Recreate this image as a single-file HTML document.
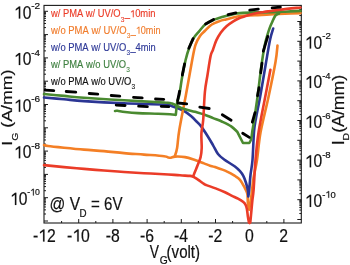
<!DOCTYPE html>
<html><head><meta charset="utf-8"><style>
html,body{margin:0;padding:0;background:#fff;}
body{width:350px;height:265px;overflow:hidden;position:relative;font-family:"Liberation Sans",sans-serif;}
svg{position:absolute;left:0;top:0;will-change:transform;filter:blur(0.35px);}
</style></head><body>
<svg width="350" height="265" viewBox="0 0 350 265">
<rect x="44.0" y="5.4" width="257.3" height="217.6" fill="none" stroke="#1a1a1a" stroke-width="1.1"/>
<path d="M44.0 221.00h4 M44.0 213.99h2 M44.0 209.88h2 M44.0 206.97h2 M44.0 204.71h2 M44.0 202.87h2 M44.0 201.31h2 M44.0 199.96h2 M44.0 198.77h2 M44.0 197.70h4 M44.0 190.69h2 M44.0 186.58h2 M44.0 183.67h2 M44.0 181.41h2 M44.0 179.57h2 M44.0 178.01h2 M44.0 176.66h2 M44.0 175.47h2 M44.0 174.40h4 M44.0 167.39h2 M44.0 163.28h2 M44.0 160.37h2 M44.0 158.11h2 M44.0 156.27h2 M44.0 154.71h2 M44.0 153.36h2 M44.0 152.17h2 M44.0 151.10h4 M44.0 144.09h2 M44.0 139.98h2 M44.0 137.07h2 M44.0 134.81h2 M44.0 132.97h2 M44.0 131.41h2 M44.0 130.06h2 M44.0 128.87h2 M44.0 127.80h4 M44.0 120.79h2 M44.0 116.68h2 M44.0 113.77h2 M44.0 111.51h2 M44.0 109.67h2 M44.0 108.11h2 M44.0 106.76h2 M44.0 105.57h2 M44.0 104.50h4 M44.0 97.49h2 M44.0 93.38h2 M44.0 90.47h2 M44.0 88.21h2 M44.0 86.37h2 M44.0 84.81h2 M44.0 83.46h2 M44.0 82.27h2 M44.0 81.20h4 M44.0 74.19h2 M44.0 70.08h2 M44.0 67.17h2 M44.0 64.91h2 M44.0 63.07h2 M44.0 61.51h2 M44.0 60.16h2 M44.0 58.97h2 M44.0 57.90h4 M44.0 50.89h2 M44.0 46.78h2 M44.0 43.87h2 M44.0 41.61h2 M44.0 39.77h2 M44.0 38.21h2 M44.0 36.86h2 M44.0 35.67h2 M44.0 34.60h4 M44.0 27.59h2 M44.0 23.48h2 M44.0 20.57h2 M44.0 18.31h2 M44.0 16.47h2 M44.0 14.91h2 M44.0 13.56h2 M44.0 12.37h2 M44.0 11.30h4 M301.3 219.50h-4 M301.3 213.54h-2 M301.3 210.05h-2 M301.3 207.58h-2 M301.3 205.66h-2 M301.3 204.09h-2 M301.3 202.77h-2 M301.3 201.62h-2 M301.3 200.61h-2 M301.3 199.70h-4 M301.3 193.74h-2 M301.3 190.25h-2 M301.3 187.78h-2 M301.3 185.86h-2 M301.3 184.29h-2 M301.3 182.97h-2 M301.3 181.82h-2 M301.3 180.81h-2 M301.3 179.90h-4 M301.3 173.94h-2 M301.3 170.45h-2 M301.3 167.98h-2 M301.3 166.06h-2 M301.3 164.49h-2 M301.3 163.17h-2 M301.3 162.02h-2 M301.3 161.01h-2 M301.3 160.10h-4 M301.3 154.14h-2 M301.3 150.65h-2 M301.3 148.18h-2 M301.3 146.26h-2 M301.3 144.69h-2 M301.3 143.37h-2 M301.3 142.22h-2 M301.3 141.21h-2 M301.3 140.30h-4 M301.3 134.34h-2 M301.3 130.85h-2 M301.3 128.38h-2 M301.3 126.46h-2 M301.3 124.89h-2 M301.3 123.57h-2 M301.3 122.42h-2 M301.3 121.41h-2 M301.3 120.50h-4 M301.3 114.54h-2 M301.3 111.05h-2 M301.3 108.58h-2 M301.3 106.66h-2 M301.3 105.09h-2 M301.3 103.77h-2 M301.3 102.62h-2 M301.3 101.61h-2 M301.3 100.70h-4 M301.3 94.74h-2 M301.3 91.25h-2 M301.3 88.78h-2 M301.3 86.86h-2 M301.3 85.29h-2 M301.3 83.97h-2 M301.3 82.82h-2 M301.3 81.81h-2 M301.3 80.90h-4 M301.3 74.94h-2 M301.3 71.45h-2 M301.3 68.98h-2 M301.3 67.06h-2 M301.3 65.49h-2 M301.3 64.17h-2 M301.3 63.02h-2 M301.3 62.01h-2 M301.3 61.10h-4 M301.3 55.14h-2 M301.3 51.65h-2 M301.3 49.18h-2 M301.3 47.26h-2 M301.3 45.69h-2 M301.3 44.37h-2 M301.3 43.22h-2 M301.3 42.21h-2 M301.3 41.30h-4 M301.3 35.34h-2 M301.3 31.85h-2 M301.3 29.38h-2 M301.3 27.46h-2 M301.3 25.89h-2 M301.3 24.57h-2 M301.3 23.42h-2 M301.3 22.41h-2 M301.3 21.50h-4 M301.3 15.54h-2 M301.3 12.05h-2 M301.3 9.58h-2 M301.3 7.66h-2 M61.60 223.0v-2 M78.70 223.0v-4 M95.80 223.0v-2 M112.90 223.0v-4 M130.00 223.0v-2 M147.10 223.0v-4 M164.20 223.0v-2 M181.30 223.0v-4 M198.40 223.0v-2 M215.50 223.0v-4 M232.60 223.0v-2 M249.70 223.0v-4 M266.80 223.0v-2 M283.90 223.0v-4" stroke="#1a1a1a" stroke-width="1" fill="none"/>
<path d="M44.00 145.10 C44.67 145.25 44.67 145.57 48.00 146.00 C51.33 146.43 58.00 147.10 64.00 147.70 C70.00 148.30 77.33 149.03 84.00 149.60 C90.67 150.17 97.33 150.52 104.00 151.10 C110.67 151.68 117.33 152.52 124.00 153.10 C130.67 153.68 137.33 154.08 144.00 154.60 C150.67 155.12 160.00 155.73 164.00 156.20 C168.00 156.67 166.83 157.15 168.00 157.40 C169.17 157.65 169.83 157.83 171.00 157.70 C172.17 157.57 172.67 156.70 175.00 156.60 C177.33 156.50 181.67 156.53 185.00 157.10 C188.33 157.67 191.83 158.95 195.00 160.00 C198.17 161.05 201.50 162.45 204.00 163.40 C206.50 164.35 208.17 165.08 210.00 165.70 C211.83 166.32 212.15 166.12 215.00 167.10 C217.85 168.08 223.77 170.12 227.10 171.60 C230.43 173.08 232.85 174.63 235.00 176.00 C237.15 177.37 238.50 178.07 240.00 179.80 C241.50 181.53 242.78 184.08 244.00 186.40 C245.22 188.72 246.65 190.90 247.30 193.70 C247.95 196.50 247.58 200.52 247.90 203.20 C248.22 205.88 248.98 208.70 249.20 209.80 L249.20 209.80 C249.58 207.33 250.78 200.30 251.50 195.00 C252.22 189.70 252.58 183.83 253.50 178.00 C254.42 172.17 255.82 167.67 257.00 160.00 C258.18 152.33 258.68 142.50 260.60 132.00 C262.52 121.50 266.02 108.67 268.50 97.00 C270.98 85.33 274.00 70.58 275.50 62.00 C277.00 53.42 277.17 48.25 277.50 45.50" stroke="#f47f25" stroke-width="2.6" fill="none" stroke-linejoin="round" stroke-linecap="round"/>
<path d="M44.00 165.10 C47.33 165.43 57.33 166.47 64.00 167.10 C70.67 167.73 77.33 168.33 84.00 168.90 C90.67 169.47 97.33 169.98 104.00 170.50 C110.67 171.02 117.33 171.55 124.00 172.00 C130.67 172.45 137.33 172.83 144.00 173.20 C150.67 173.57 158.00 173.85 164.00 174.20 C170.00 174.55 175.67 175.02 180.00 175.30 C184.33 175.58 187.82 175.68 190.00 175.90 C192.18 176.12 192.58 176.48 193.10 176.60 L193.10 176.60 C193.97 177.15 196.48 178.68 198.30 179.90 C200.12 181.12 202.65 183.03 204.00 183.90 C205.35 184.77 204.47 184.35 206.40 185.10 C208.33 185.85 212.50 187.20 215.60 188.40 C218.70 189.60 222.27 191.07 225.00 192.30 C227.73 193.53 229.83 194.73 232.00 195.80 C234.17 196.87 236.17 197.70 238.00 198.70 C239.83 199.70 241.73 200.78 243.00 201.80 C244.27 202.82 244.95 203.60 245.60 204.80 C246.25 206.00 246.53 207.13 246.90 209.00 C247.27 210.87 247.47 213.78 247.80 216.00 C248.13 218.22 248.72 221.25 248.90 222.30 L248.9 222.3 L249.6 223.0 L249.6 223.0 L250.3 222.3 L250.30 222.30 C250.47 220.58 250.95 215.72 251.30 212.00 C251.65 208.28 252.02 203.67 252.40 200.00 C252.78 196.33 253.08 196.67 253.60 190.00 C254.12 183.33 254.67 169.67 255.50 160.00 C256.33 150.33 256.98 142.50 258.60 132.00 C260.22 121.50 263.23 107.37 265.20 97.00 C267.17 86.63 269.53 74.33 270.40 69.80" stroke="#eb3c28" stroke-width="2.6" fill="none" stroke-linejoin="round" stroke-linecap="round"/>
<path d="M44.00 97.50 C47.33 97.80 57.33 98.70 64.00 99.30 C70.67 99.90 74.00 100.43 84.00 101.10 C94.00 101.77 110.67 102.72 124.00 103.30 C137.33 103.88 156.00 104.12 164.00 104.60 C172.00 105.08 168.68 105.15 172.00 106.20 C175.32 107.25 180.60 109.13 183.90 110.90 C187.20 112.67 189.78 115.12 191.80 116.80 C193.82 118.48 194.57 119.57 196.00 121.00 C197.43 122.43 198.45 122.87 200.40 125.40 C202.35 127.93 205.58 132.88 207.70 136.20 C209.82 139.52 211.38 142.33 213.10 145.30 C214.82 148.27 216.17 151.63 218.00 154.00 C219.83 156.37 221.33 157.45 224.10 159.50 C226.87 161.55 231.95 164.35 234.60 166.30 C237.25 168.25 238.55 169.60 240.00 171.20 C241.45 172.80 242.32 174.02 243.30 175.90 C244.28 177.78 245.13 180.08 245.90 182.50 C246.67 184.92 247.50 188.07 247.90 190.40 C248.30 192.73 248.23 195.48 248.30 196.50 L248.30 196.50 C248.45 195.42 248.83 193.58 249.20 190.00 C249.57 186.42 249.95 180.00 250.50 175.00 C251.05 170.00 251.92 167.17 252.50 160.00 C253.08 152.83 253.42 139.00 254.00 132.00 C254.58 125.00 254.98 123.83 256.00 118.00 C257.02 112.17 258.50 105.83 260.10 97.00 C261.70 88.17 263.95 74.50 265.60 65.00 C267.25 55.50 268.73 46.08 270.00 40.00 C271.27 33.92 272.67 30.42 273.20 28.50" stroke="#2b3594" stroke-width="2.6" fill="none" stroke-linejoin="round" stroke-linecap="round"/>
<path d="M174.90 156.00 C175.27 154.67 176.37 152.33 177.10 148.00 C177.83 143.67 177.83 138.83 179.30 130.00 C180.77 121.17 183.75 106.67 185.90 95.00 C188.05 83.33 190.60 68.37 192.20 60.00 C193.80 51.63 194.20 48.80 195.50 44.80 C196.80 40.80 198.42 38.33 200.00 36.00 C201.58 33.67 203.03 32.72 205.00 30.80 C206.97 28.88 209.35 26.12 211.80 24.50 C214.25 22.88 217.33 21.95 219.70 21.10 C222.07 20.25 223.72 19.98 226.00 19.40 C228.28 18.82 231.07 18.17 233.40 17.60 C235.73 17.03 236.40 16.38 240.00 16.00 C243.60 15.62 250.00 15.57 255.00 15.30 C260.00 15.03 265.00 14.65 270.00 14.40 C275.00 14.15 279.92 14.02 285.00 13.80 C290.08 13.58 297.92 13.22 300.50 13.10" stroke="#f47f25" stroke-width="2.6" fill="none" stroke-linejoin="round" stroke-linecap="round"/>
<path d="M44.00 94.00 C47.33 94.32 57.33 95.28 64.00 95.90 C70.67 96.52 74.00 96.97 84.00 97.70 C94.00 98.43 110.67 99.50 124.00 100.30 C137.33 101.10 156.00 101.95 164.00 102.50 C172.00 103.05 169.02 102.65 172.00 103.60 C174.98 104.55 178.07 106.83 181.90 108.20 C185.73 109.57 191.30 110.75 195.00 111.80 C198.70 112.85 201.08 113.45 204.10 114.50 C207.12 115.55 210.08 116.90 213.10 118.10 C216.12 119.30 219.18 120.33 222.20 121.70 C225.22 123.07 228.68 124.62 231.20 126.30 C233.72 127.98 236.28 130.88 237.30 131.80 L237.3 131.8 L243.0 143.0 L243.0 143.0 L249.3 143.0 L249.30 143.00 C249.62 142.33 250.67 141.17 251.20 139.00 C251.73 136.83 252.05 132.88 252.50 130.00 C252.95 127.12 253.07 127.20 253.90 121.70 C254.73 116.20 256.23 106.45 257.50 97.00 C258.77 87.55 260.30 73.58 261.50 65.00 C262.70 56.42 263.73 50.45 264.70 45.50 C265.67 40.55 266.45 38.28 267.30 35.30 C268.15 32.32 269.02 29.73 269.80 27.60 C270.58 25.47 271.08 24.50 272.00 22.50 C272.92 20.50 274.13 17.10 275.30 15.60 C276.47 14.10 278.38 13.85 279.00 13.50" stroke="#4a8a30" stroke-width="2.6" fill="none" stroke-linejoin="round" stroke-linecap="round"/>
<path d="M115.00 111.00 C115.40 110.97 115.73 110.63 117.40 110.80 C119.07 110.97 121.57 111.62 125.00 112.00 C128.43 112.38 132.50 112.82 138.00 113.10 C143.50 113.38 152.67 113.50 158.00 113.70 C163.33 113.90 167.03 114.10 170.00 114.30 C172.97 114.50 174.83 114.80 175.80 114.90 L175.80 114.90 C176.05 112.68 176.72 104.92 177.30 101.60 C177.88 98.28 178.47 99.27 179.30 95.00 C180.13 90.73 181.25 81.83 182.30 76.00 C183.35 70.17 184.50 64.53 185.60 60.00 C186.70 55.47 187.57 52.43 188.90 48.80 C190.23 45.17 191.93 41.07 193.60 38.20 C195.27 35.33 196.88 33.97 198.90 31.60 C200.92 29.23 203.03 26.03 205.70 24.00 C208.37 21.97 212.18 20.58 214.90 19.40 C217.62 18.22 218.92 17.77 222.00 16.90 C225.08 16.03 230.40 14.83 233.40 14.20 C236.40 13.57 236.40 13.40 240.00 13.10 C243.60 12.80 250.00 12.53 255.00 12.40 C260.00 12.27 265.00 12.42 270.00 12.30 C275.00 12.18 279.92 11.93 285.00 11.70 C290.08 11.47 297.92 11.03 300.50 10.90" stroke="#4a8a30" stroke-width="2.6" fill="none" stroke-linejoin="round" stroke-linecap="round"/>
<path d="M193.10 176.40 C193.50 175.42 194.73 172.40 195.50 170.50 C196.27 168.60 196.85 167.23 197.70 165.00 C198.55 162.77 199.93 159.93 200.60 157.10 C201.27 154.27 201.57 151.92 201.70 148.00 C201.83 144.08 201.15 138.27 201.40 133.60 C201.65 128.93 202.62 126.93 203.20 120.00 C203.78 113.07 204.18 99.50 204.90 92.00 C205.62 84.50 206.55 80.98 207.50 75.00 C208.45 69.02 209.70 60.27 210.60 56.10 C211.50 51.93 211.95 52.62 212.90 50.00 C213.85 47.38 214.97 43.32 216.30 40.40 C217.63 37.48 219.20 34.87 220.90 32.50 C222.60 30.13 224.43 28.07 226.50 26.20 C228.57 24.33 231.20 22.62 233.30 21.30 C235.40 19.98 237.17 19.13 239.10 18.30 C241.03 17.47 242.98 16.92 244.90 16.30 C246.82 15.68 248.92 15.08 250.60 14.60 C252.28 14.12 253.10 13.78 255.00 13.40 C256.90 13.02 259.83 12.63 262.00 12.30 C264.17 11.97 264.83 11.85 268.00 11.40 C271.17 10.95 275.58 10.25 281.00 9.60 C286.42 8.95 297.25 7.85 300.50 7.50" stroke="#eb3c28" stroke-width="2.6" fill="none" stroke-linejoin="round" stroke-linecap="round"/>
<path d="M45.2 90.1 L53.8 90.7 M66.2 91.5 L75.8 92.2 M89.2 93.5 L97.8 94.1 M111.2 95.5 L119.8 96.1 M133.5 97.3 L142.2 97.8 M155.5 99.0 L163.8 99.3 M177.8 103.0 L186.7 103.9 M199.8 107.1 L209.2 108.5 M222.3 114.7 L231.1 120.2 M242.7 133.2 L249.3 137.4 M252.3 122.2 L255.0 112.7 M257.5 95.8 L259.0 87.7 M260.7 72.8 L262.0 63.2 M263.3 51.2 L267.8 36.4" stroke="#000" stroke-width="2.8" fill="none" stroke-linecap="round" stroke-linejoin="round"/>
<path d="M116.2 105.1 L125.1 105.5 M138.6 106.2 L147.4 106.6 M161.2 106.4 L168.8 106.6 M177.6 100.8 L179.6 91.1 M182.3 75.1 L184.6 63.9 M188.8 48.3 L193.1 38.6 M205.6 24.0 L213.6 19.5 M228.1 14.6 L235.9 12.9 M249.7 10.2 L258.3 9.2 M272.1 7.8 L280.4 7.2" stroke="#000" stroke-width="2.8" fill="none" stroke-linecap="round" stroke-linejoin="round"/>
<g font-family="Liberation Sans" style="font-kerning:none;white-space:pre"><g transform="translate(13.97 18.50) scale(0.8906 1.0000)"><text font-size="17.5" fill="#111" stroke="#111" stroke-width="0.2" xml:space="preserve"> 0</text><path d="M640 0V1180L240 950V1120L660 1409H821V0Z" transform="translate(0.000 0) scale(0.00854 -0.00854)" fill="#111" stroke="#111" stroke-width="23.4"/></g>
<g transform="translate(31.15 9.00) scale(1.0600 1.0000)"><text font-size="9.5" fill="#111" stroke="#111" stroke-width="0.2" xml:space="preserve">-2</text></g>
<g transform="translate(13.97 65.10) scale(0.8906 1.0000)"><text font-size="17.5" fill="#111" stroke="#111" stroke-width="0.2" xml:space="preserve"> 0</text><path d="M640 0V1180L240 950V1120L660 1409H821V0Z" transform="translate(0.000 0) scale(0.00854 -0.00854)" fill="#111" stroke="#111" stroke-width="23.4"/></g>
<g transform="translate(31.16 55.60) scale(1.0327 1.0000)"><text font-size="9.5" fill="#111" stroke="#111" stroke-width="0.2" xml:space="preserve">-4</text></g>
<g transform="translate(13.97 111.70) scale(0.8906 1.0000)"><text font-size="17.5" fill="#111" stroke="#111" stroke-width="0.2" xml:space="preserve"> 0</text><path d="M640 0V1180L240 950V1120L660 1409H821V0Z" transform="translate(0.000 0) scale(0.00854 -0.00854)" fill="#111" stroke="#111" stroke-width="23.4"/></g>
<g transform="translate(31.16 102.20) scale(1.0516 1.0000)"><text font-size="9.5" fill="#111" stroke="#111" stroke-width="0.2" xml:space="preserve">-6</text></g>
<g transform="translate(13.97 158.30) scale(0.8906 1.0000)"><text font-size="17.5" fill="#111" stroke="#111" stroke-width="0.2" xml:space="preserve"> 0</text><path d="M640 0V1180L240 950V1120L660 1409H821V0Z" transform="translate(0.000 0) scale(0.00854 -0.00854)" fill="#111" stroke="#111" stroke-width="23.4"/></g>
<g transform="translate(31.16 148.80) scale(1.0510 1.0000)"><text font-size="9.5" fill="#111" stroke="#111" stroke-width="0.2" xml:space="preserve">-8</text></g>
<g transform="translate(10.07 204.90) scale(0.8906 1.0000)"><text font-size="17.5" fill="#111" stroke="#111" stroke-width="0.2" xml:space="preserve"> 0</text><path d="M640 0V1180L240 950V1120L660 1409H821V0Z" transform="translate(0.000 0) scale(0.00854 -0.00854)" fill="#111" stroke="#111" stroke-width="23.4"/></g>
<g transform="translate(27.31 195.40) scale(0.9198 1.0000)"><text font-size="9.5" fill="#111" stroke="#111" stroke-width="0.2" xml:space="preserve">- 0</text><path d="M640 0V1180L240 950V1120L660 1409H821V0Z" transform="translate(3.164 0) scale(0.00464 -0.00464)" fill="#111" stroke="#111" stroke-width="43.1"/></g>
<g transform="translate(304.87 48.50) scale(0.8906 1.0000)"><text font-size="17.5" fill="#111" stroke="#111" stroke-width="0.2" xml:space="preserve"> 0</text><path d="M640 0V1180L240 950V1120L660 1409H821V0Z" transform="translate(0.000 0) scale(0.00854 -0.00854)" fill="#111" stroke="#111" stroke-width="23.4"/></g>
<g transform="translate(322.17 39.30) scale(1.0203 1.0000)"><text font-size="9.5" fill="#111" stroke="#111" stroke-width="0.2" xml:space="preserve">-2</text></g>
<g transform="translate(304.87 88.10) scale(0.8906 1.0000)"><text font-size="17.5" fill="#111" stroke="#111" stroke-width="0.2" xml:space="preserve"> 0</text><path d="M640 0V1180L240 950V1120L660 1409H821V0Z" transform="translate(0.000 0) scale(0.00854 -0.00854)" fill="#111" stroke="#111" stroke-width="23.4"/></g>
<g transform="translate(322.18 78.90) scale(0.9940 1.0000)"><text font-size="9.5" fill="#111" stroke="#111" stroke-width="0.2" xml:space="preserve">-4</text></g>
<g transform="translate(304.87 127.70) scale(0.8906 1.0000)"><text font-size="17.5" fill="#111" stroke="#111" stroke-width="0.2" xml:space="preserve"> 0</text><path d="M640 0V1180L240 950V1120L660 1409H821V0Z" transform="translate(0.000 0) scale(0.00854 -0.00854)" fill="#111" stroke="#111" stroke-width="23.4"/></g>
<g transform="translate(322.17 118.50) scale(1.0122 1.0000)"><text font-size="9.5" fill="#111" stroke="#111" stroke-width="0.2" xml:space="preserve">-6</text></g>
<g transform="translate(304.87 167.30) scale(0.8906 1.0000)"><text font-size="17.5" fill="#111" stroke="#111" stroke-width="0.2" xml:space="preserve"> 0</text><path d="M640 0V1180L240 950V1120L660 1409H821V0Z" transform="translate(0.000 0) scale(0.00854 -0.00854)" fill="#111" stroke="#111" stroke-width="23.4"/></g>
<g transform="translate(322.17 158.10) scale(1.0116 1.0000)"><text font-size="9.5" fill="#111" stroke="#111" stroke-width="0.2" xml:space="preserve">-8</text></g>
<g transform="translate(304.87 206.90) scale(0.8906 1.0000)"><text font-size="17.5" fill="#111" stroke="#111" stroke-width="0.2" xml:space="preserve"> 0</text><path d="M640 0V1180L240 950V1120L660 1409H821V0Z" transform="translate(0.000 0) scale(0.00854 -0.00854)" fill="#111" stroke="#111" stroke-width="23.4"/></g>
<g transform="translate(322.18 197.70) scale(0.9971 1.0000)"><text font-size="9.5" fill="#111" stroke="#111" stroke-width="0.2" xml:space="preserve">- 0</text><path d="M640 0V1180L240 950V1120L660 1409H821V0Z" transform="translate(3.164 0) scale(0.00464 -0.00464)" fill="#111" stroke="#111" stroke-width="43.1"/></g>
<g transform="translate(32.92 241.50) scale(0.9000 1.0000)"><text font-size="17.5" fill="#111" stroke="#111" stroke-width="0.2" xml:space="preserve">- 2</text><path d="M640 0V1180L240 950V1120L660 1409H821V0Z" transform="translate(5.828 0) scale(0.00854 -0.00854)" fill="#111" stroke="#111" stroke-width="23.4"/></g>
<g transform="translate(67.12 241.50) scale(0.9000 1.0000)"><text font-size="17.5" fill="#111" stroke="#111" stroke-width="0.2" xml:space="preserve">- 0</text><path d="M640 0V1180L240 950V1120L660 1409H821V0Z" transform="translate(5.828 0) scale(0.00854 -0.00854)" fill="#111" stroke="#111" stroke-width="23.4"/></g>
<g transform="translate(105.70 241.50) scale(0.9000 1.0000)"><text font-size="17.5" fill="#111" stroke="#111" stroke-width="0.2" xml:space="preserve">-8</text></g>
<g transform="translate(139.90 241.50) scale(0.9000 1.0000)"><text font-size="17.5" fill="#111" stroke="#111" stroke-width="0.2" xml:space="preserve">-6</text></g>
<g transform="translate(174.10 241.50) scale(0.9000 1.0000)"><text font-size="17.5" fill="#111" stroke="#111" stroke-width="0.2" xml:space="preserve">-4</text></g>
<g transform="translate(208.30 241.50) scale(0.9000 1.0000)"><text font-size="17.5" fill="#111" stroke="#111" stroke-width="0.2" xml:space="preserve">-2</text></g>
<g transform="translate(245.12 241.50) scale(0.9000 1.0000)"><text font-size="17.5" fill="#111" stroke="#111" stroke-width="0.2" xml:space="preserve">0</text></g>
<g transform="translate(279.32 241.50) scale(0.9000 1.0000)"><text font-size="17.5" fill="#111" stroke="#111" stroke-width="0.2" xml:space="preserve">2</text></g>
<g transform="translate(149.84 257.60) scale(0.7900 1.0000)"><text font-size="17.5" fill="#111" stroke="#111" stroke-width="0.2" xml:space="preserve">V</text></g>
<g transform="translate(159.78 263.60) scale(1.0263 1.0000)"><text font-size="10" fill="#111" stroke="#111" stroke-width="0.2" xml:space="preserve">G</text></g>
<g transform="translate(166.56 257.60) scale(0.8633 1.0000)"><text font-size="17.5" fill="#111" stroke="#111" stroke-width="0.2" xml:space="preserve">(volt)</text></g>
<g transform="translate(49.58 210.10) scale(0.8890 1.0000)"><text font-size="17.5" fill="#111" stroke="#111" stroke-width="0.2" xml:space="preserve">@ V</text></g>
<g transform="translate(79.60 216.80) scale(0.9793 1.0000)"><text font-size="10" fill="#111" stroke="#111" stroke-width="0.2" xml:space="preserve">D</text></g>
<g transform="translate(86.86 210.10) scale(0.8634 1.0000)"><text font-size="17.5" fill="#111" stroke="#111" stroke-width="0.2" xml:space="preserve"> = 6V</text></g>
<g transform="translate(51.01 17.20) scale(0.9353 1.0000)"><text font-size="10" fill="#eb3c28" stroke="#eb3c28" stroke-width="0.15" xml:space="preserve">w/ PMA w/ UV/O</text></g>
<g transform="translate(120.70 21.50) scale(0.9400 1.0000)"><text font-size="7" fill="#eb3c28" stroke="#eb3c28" stroke-width="0.1" xml:space="preserve">3</text></g>
<g transform="translate(124.70 17.20) scale(0.9394 1.0000)"><text font-size="10" fill="#eb3c28" stroke="#eb3c28" stroke-width="0.15" xml:space="preserve">_ 0min</text><path d="M640 0V1180L240 950V1120L660 1409H821V0Z" transform="translate(5.562 0) scale(0.00488 -0.00488)" fill="#eb3c28" stroke="#eb3c28" stroke-width="30.7"/></g>
<g transform="translate(51.01 33.70) scale(0.9453 1.0000)"><text font-size="10" fill="#f07c2c" stroke="#f07c2c" stroke-width="0.15" xml:space="preserve">w/o PMA w/ UV/O</text></g>
<g transform="translate(126.70 38.00) scale(0.9400 1.0000)"><text font-size="7" fill="#f07c2c" stroke="#f07c2c" stroke-width="0.1" xml:space="preserve">3</text></g>
<g transform="translate(130.70 33.70) scale(0.9114 1.0000)"><text font-size="10" fill="#f07c2c" stroke="#f07c2c" stroke-width="0.15" xml:space="preserve">_ 0min</text><path d="M640 0V1180L240 950V1120L660 1409H821V0Z" transform="translate(5.562 0) scale(0.00488 -0.00488)" fill="#f07c2c" stroke="#f07c2c" stroke-width="30.7"/></g>
<g transform="translate(51.01 50.60) scale(0.9415 1.0000)"><text font-size="10" fill="#2f3a98" stroke="#2f3a98" stroke-width="0.15" xml:space="preserve">w/o PMA w/ UV/O</text></g>
<g transform="translate(126.40 54.90) scale(0.9400 1.0000)"><text font-size="7" fill="#2f3a98" stroke="#2f3a98" stroke-width="0.1" xml:space="preserve">3</text></g>
<g transform="translate(130.40 50.60) scale(0.9290 1.0000)"><text font-size="10" fill="#2f3a98" stroke="#2f3a98" stroke-width="0.15" xml:space="preserve">_4min</text></g>
<g transform="translate(51.01 67.50) scale(0.9400 1.0000)"><text font-size="10" fill="#3f8040" stroke="#3f8040" stroke-width="0.15" xml:space="preserve">w/ PMA w/o UV/O</text></g>
<g transform="translate(126.28 71.80) scale(0.9400 1.0000)"><text font-size="7" fill="#3f8040" stroke="#3f8040" stroke-width="0.1" xml:space="preserve">3</text></g>
<g transform="translate(51.01 84.60) scale(0.9400 1.0000)"><text font-size="10" fill="#111111" stroke="#111111" stroke-width="0.15" xml:space="preserve">w/o PMA w/o UV/O</text></g>
<g transform="translate(131.50 88.90) scale(0.9400 1.0000)"><text font-size="7" fill="#111111" stroke="#111111" stroke-width="0.1" xml:space="preserve">3</text></g>
<g transform="translate(12.00 145.74) rotate(-90) scale(1.0450 0.9150)"><text font-size="17" fill="#111" stroke="#111" stroke-width="0.2" xml:space="preserve">I</text></g>
<g transform="translate(18.40 140.80) rotate(-90) scale(1.0450 0.9150)"><text font-size="10" fill="#111" stroke="#111" stroke-width="0.2" xml:space="preserve">G</text></g>
<g transform="translate(12.00 132.68) rotate(-90) scale(1.0450 0.9150)"><text font-size="17" fill="#111" stroke="#111" stroke-width="0.2" xml:space="preserve"> (A/mm)</text></g>
<g transform="translate(343.60 145.34) rotate(-90) scale(1.0450 0.9400)"><text font-size="17" fill="#111" stroke="#111" stroke-width="0.2" xml:space="preserve">I</text></g>
<g transform="translate(348.90 140.40) rotate(-90) scale(1.0450 0.9400)"><text font-size="10" fill="#111" stroke="#111" stroke-width="0.2" xml:space="preserve">D</text></g>
<g transform="translate(343.60 132.86) rotate(-90) scale(1.0450 0.9400)"><text font-size="17" fill="#111" stroke="#111" stroke-width="0.2" xml:space="preserve">(A/mm)</text></g></g>
</svg>
</body></html>
